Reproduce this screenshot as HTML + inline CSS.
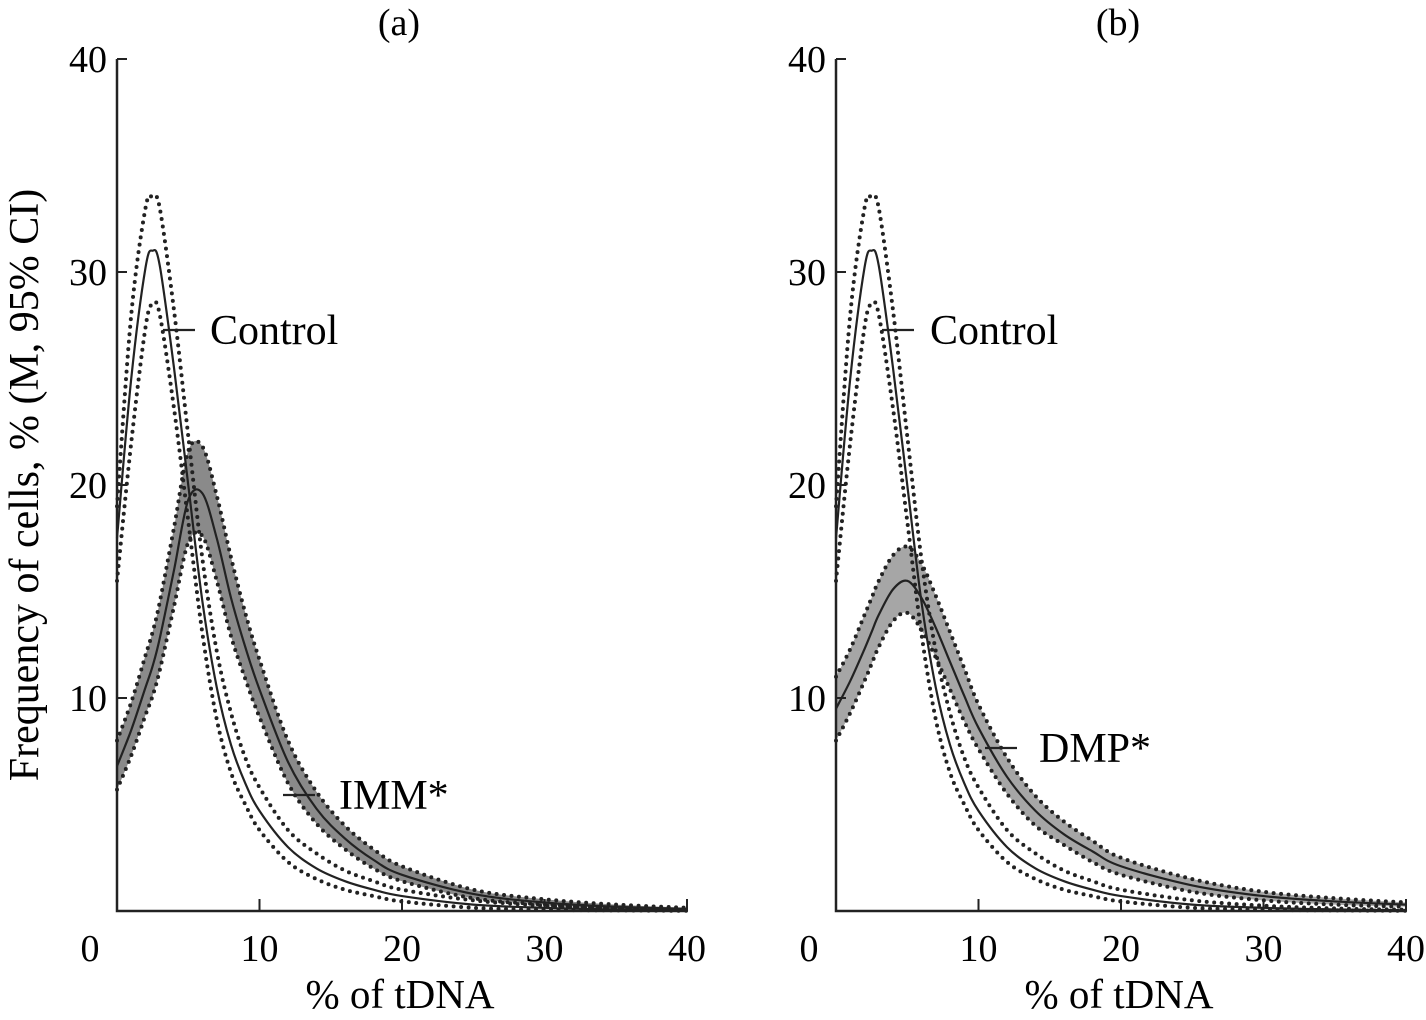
<!DOCTYPE html>
<html><head><meta charset="utf-8"><style>
body{margin:0;background:#fff;}
svg{display:block;font-family:"Liberation Serif",serif;}
</style></head><body>
<svg id="chart" width="1426" height="1020"></svg>
<script>
const xs=[0,1,2,2.5,3,4,5,6,7,8,9,10,12,14,16,18,20,25,30,35,40];
const ctrlMean=[17.5,25,30.2,31,30.3,25.5,20,14.5,10.5,7.8,6,4.7,3,2,1.4,1,0.7,0.3,0.15,0.07,0.03];
const ctrlUp=[19,28,33,33.5,33,28.2,22.3,16.5,12.2,9.3,7.2,5.8,3.8,2.7,1.9,1.4,1,0.5,0.25,0.12,0.06];
const ctrlLo=[15.5,22,27.4,28.5,28,23.6,18.3,13,9,6.5,5,3.8,2.3,1.5,1,0.7,0.45,0.15,0.06,0.03,0.01];
const immMean=[6.8,8.5,10.5,11.5,12.8,16,19.3,19.6,17.5,14.7,12.4,10.4,7,4.8,3.4,2.4,1.7,0.8,0.4,0.2,0.1];
const immUp=[8,9.8,12,13.1,14.5,18,21.6,21.8,19.5,16.6,14,11.8,8,5.6,4,2.9,2.1,1,0.55,0.3,0.15];
const immLo=[5.7,7.3,9.2,10.1,11.3,14.3,17.3,17.6,15.5,12.9,10.9,9.1,6,4.1,2.9,2,1.4,0.6,0.3,0.12,0.05];
const dmpMean=[9.5,10.8,12.3,13.1,13.9,15.1,15.5,14.7,13.3,11.7,10.1,8.6,6.3,4.7,3.6,2.8,2.1,1.2,0.7,0.45,0.3];
const dmpUp=[11,12.3,13.9,14.7,15.5,16.7,17.1,16.3,14.8,13.1,11.4,9.7,7.2,5.4,4.2,3.3,2.5,1.5,0.9,0.6,0.4];
const dmpLo=[8,9.3,10.8,11.6,12.4,13.6,14,13.2,11.9,10.4,8.9,7.6,5.5,4,3.1,2.3,1.7,0.9,0.5,0.3,0.2];
const ticks=[0,10,20,30,40];
const NS="http://www.w3.org/2000/svg";
const svg=document.getElementById('chart');
function el(tag,attrs,parent){const e=document.createElementNS(NS,tag);for(const k in attrs)e.setAttribute(k,attrs[k]);(parent||svg).appendChild(e);return e;}
function smooth(pts){let d='M'+pts[0][0]+','+pts[0][1];for(let i=0;i<pts.length-1;i++){const p0=pts[Math.max(0,i-1)],p1=pts[i],p2=pts[i+1],p3=pts[Math.min(pts.length-1,i+2)];
const c1=[p1[0]+(p2[0]-p0[0])/6,p1[1]+(p2[1]-p0[1])/6],c2=[p2[0]-(p3[0]-p1[0])/6,p2[1]-(p3[1]-p1[1])/6];d+=' C'+c1+' '+c2+' '+p2;}return d;}
function panel(x0,title,mean,up,lo,fill,name,label,lab,ctrlLab){
  const X=v=>x0+v*14.25, Y=v=>911-v*21.3;
  const g=el('g',{});
  
  
  const t=el('text',{x:X(20)-3,y:35,'font-size':38,'text-anchor':'middle'},g);t.textContent=title;
  
  const P=a=>xs.map((x,i)=>[X(x),Y(a[i])]);
  const up2=P(up),lo2=P(lo).reverse();
  const band=el('path',{d:smooth(up2)+' L'+lo2[0]+' '+smooth(lo2).slice(1)+' Z',fill:fill},g);
  
  const lines=[[ctrlUp,'control-upper-ci',1],[ctrlLo,'control-lower-ci',1],[up,name+'-upper-ci',1],[lo,name+'-lower-ci',1],[ctrlMean,'control-mean',0],[mean,name+'-mean',0]];
  lines.forEach(([a,n,dot])=>{
    const p=el('path',{d:smooth(P(a)),fill:'none',stroke:'#222','stroke-width':dot?4:2.2},g);
    if(dot){p.setAttribute('stroke-dasharray','0 7.5');p.setAttribute('stroke-linecap','round');}
    
  });
  const ax=el('path',{d:`M${X(0)},${Y(40)} V${Y(0)} H${X(40)}`,fill:'none',stroke:'#222','stroke-width':2.5},g);
  
  ticks.forEach(v=>{
    el('line',{x1:X(0),x2:X(0)+10,y1:Y(v),y2:Y(v),stroke:'#222','stroke-width':2},g);
    if(v>0)el('line',{x1:X(v),x2:X(v),y1:Y(0),y2:Y(0)-12,stroke:'#222','stroke-width':2},g);
    if(v>0){const yt=el('text',{x:X(0)-10,y:Y(v)+13,'font-size':38,'text-anchor':'end'},g);yt.textContent=v;
      }
    const xt=el('text',{x:v==0?X(0)-27:X(v),y:961,'font-size':38,'text-anchor':'middle'},g);xt.textContent=v;
    
  });
  const xl=el('text',{x:X(20)-2,y:1008,'font-size':41,'text-anchor':'middle'},g);xl.textContent='% of tDNA';
  
  [[ctrlLab[0],ctrlLab[1],ctrlLab[2],'Control','control-label'],[lab[0],lab[1],lab[2],label,name+'-label']].forEach(([lx,ly,tx,txt,n])=>{
    el('line',{x1:lx,x2:lx+32,y1:ly,y2:ly,stroke:'#222','stroke-width':2.2},g);
    const tt=el('text',{x:tx,y:ly+14,'font-size':42},g);tt.textContent=txt;
    
  });
}
panel(117,'(a)',immMean,immUp,immLo,'#8a8a8a','imm','IMM*',[283,795,339],[163,330,210]);
panel(836,'(b)',dmpMean,dmpUp,dmpLo,'#a6a6a6','dmp','DMP*',[985,748,1039],[882,330,930]);
const yl=el('text',{x:0,y:0,'font-size':42,'text-anchor':'middle',transform:'translate(38,485) rotate(-90)'});
yl.textContent='Frequency of cells, % (M, 95% CI)';


</script>
</body></html>
